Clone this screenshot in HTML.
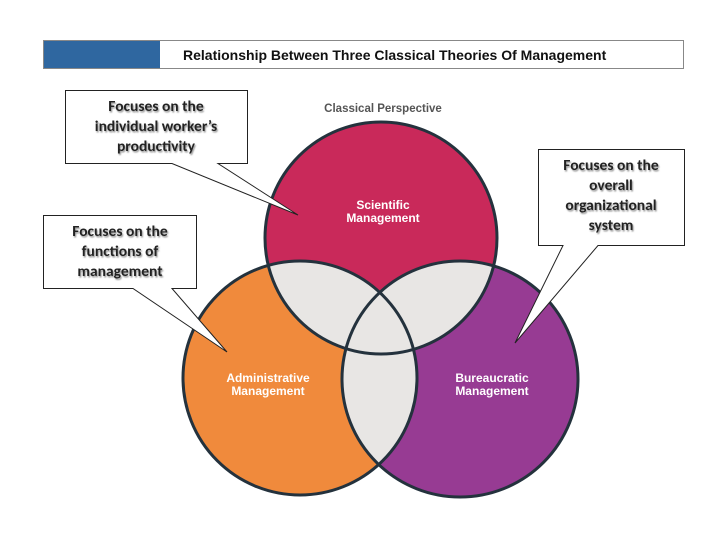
<!DOCTYPE html>
<html><head><meta charset="utf-8"><style>
body{margin:0;background:#fff;width:728px;height:546px;overflow:hidden}
svg{display:block}
.c{font-family:"Liberation Sans",sans-serif;font-weight:bold;font-size:12px;fill:#fff;text-anchor:middle}
.b{font-family:"Carlito","Liberation Sans",sans-serif;font-weight:bold;font-size:15.5px;fill:#222;text-anchor:middle;filter:url(#sh)}
</style></head><body>
<svg width="728" height="546" viewBox="0 0 728 546">
<defs>
<filter id="sh" x="-10%" y="-30%" width="130%" height="160%"><feDropShadow dx="1" dy="1.5" stdDeviation="0.8" flood-color="#777" flood-opacity="0.8"/></filter>
<clipPath id="cT"><circle cx="381" cy="238" r="116"/></clipPath>
<clipPath id="cL"><circle cx="300" cy="378" r="117"/></clipPath>
</defs>
<rect x="43.5" y="40.5" width="640" height="28" fill="#fff" stroke="#888"/>
<rect x="44" y="41" width="116" height="27" fill="#2f67a0"/>
<text x="183" y="60" font-family="Liberation Sans,sans-serif" font-weight="bold" font-size="14" fill="#111">Relationship Between Three Classical Theories Of Management</text>
<text x="383" y="112" font-family="Liberation Sans,sans-serif" font-weight="bold" font-size="11.5" fill="#555" text-anchor="middle">Classical Perspective</text>
<g>
<circle cx="300" cy="378" r="117" fill="#f08a3c"/>
<circle cx="460" cy="379" r="118" fill="#973b93"/>
<circle cx="381" cy="238" r="116" fill="#c9295a"/>
<g clip-path="url(#cT)"><circle cx="300" cy="378" r="117" fill="#e8e6e4"/><circle cx="460" cy="379" r="118" fill="#e8e6e4"/></g>
<g clip-path="url(#cL)"><circle cx="460" cy="379" r="118" fill="#e8e6e4"/></g>
<g fill="none" stroke="#24323d" stroke-width="3">
<circle cx="381" cy="238" r="116"/><circle cx="300" cy="378" r="117"/><circle cx="460" cy="379" r="118"/>
</g>
</g>
<text class="c" x="383" y="209">Scientific</text><text class="c" x="383" y="222">Management</text>
<text class="c" x="268" y="382">Administrative</text><text class="c" x="268" y="395">Management</text>
<text class="c" x="492" y="382">Bureaucratic</text><text class="c" x="492" y="395">Management</text>
<g fill="#fff" stroke="#222" stroke-width="1">
<path d="M65.5 90.5H247.5V163.5H218L298 215L172 163.5H65.5Z"/>
<path d="M43.5 215.5H196.5V288.5H172L227 352L133 288.5H43.5Z"/>
<path d="M538.5 149.5H684.5V245.5H598L515 343L563 245.5H538.5Z"/>
</g>
<text class="b" x="156" y="111">Focuses on the</text>
<text class="b" x="156" y="131">individual worker’s</text>
<text class="b" x="156" y="151">productivity</text>
<text class="b" x="120" y="236">Focuses on the</text>
<text class="b" x="120" y="256">functions of</text>
<text class="b" x="120" y="276">management</text>
<text class="b" x="611" y="170">Focuses on the</text>
<text class="b" x="611" y="190">overall</text>
<text class="b" x="611" y="210">organizational</text>
<text class="b" x="611" y="230">system</text>
</svg>
</body></html>
